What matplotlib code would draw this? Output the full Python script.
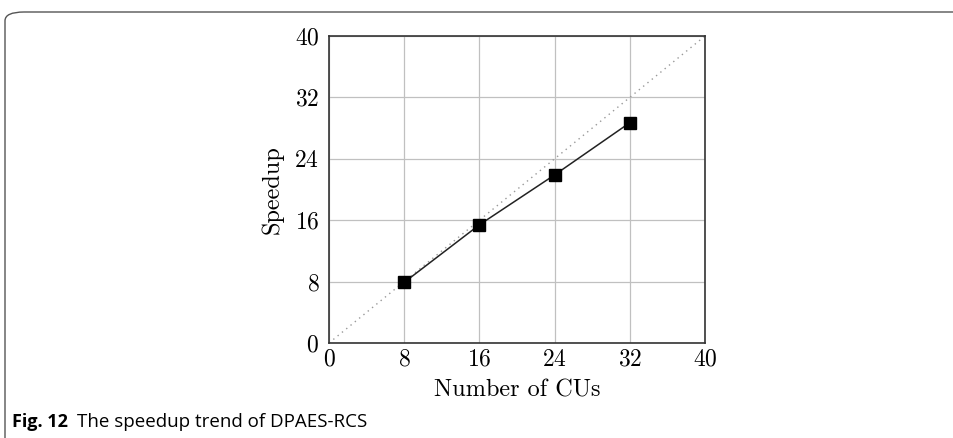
import numpy as np
import matplotlib.pyplot as plt
from matplotlib.patches import FancyBboxPatch

plt.rcParams['font.family'] = 'cmr10'
plt.rcParams['axes.formatter.use_mathtext'] = True

# Data
cus = [8, 16, 24, 32]
speedup = [7.9, 15.4, 21.9, 28.7]
ideal = [0, 40]
ticks = [0, 8, 16, 24, 32, 40]

W, H = 954, 438
fig = plt.figure(figsize=(W / 100, H / 100), dpi=100)

# rounded frame around the figure (clipped at right/bottom)
frame = FancyBboxPatch((5 / W, -0.2), 1.2, (H - 12) / H + 0.2,
                       boxstyle='round,pad=0,rounding_size=0.02',
                       transform=fig.transFigure, fill=False,
                       edgecolor='#555555', linewidth=1.0)
fig.patches.append(frame)

ax = fig.add_axes([329 / W, 1 - 343 / H, 376 / W, 307 / H])
ax.plot(ideal, ideal, linestyle=(0, (1, 3)), color='#999999', linewidth=1.0, zorder=2)
ax.plot(cus, speedup, color='#222222', linewidth=1.1, marker='s',
        markersize=8, markerfacecolor='black', markeredgecolor='black', zorder=3)

ax.set_xlim(0, 40)
ax.set_ylim(0, 40)
ax.set_xticks(ticks)
ax.set_yticks(ticks)
ax.grid(True, color='#c0c0c0', linewidth=0.9)
ax.set_axisbelow(True)
ax.tick_params(direction='in', length=0, labelsize=17, pad=4)
ax.tick_params(axis='y', pad=7)
for s in ax.spines.values():
    s.set_linewidth(1.2)
    s.set_color('#333333')

ax.set_xlabel('Number of CUs', fontsize=17.5, labelpad=6)
ax.set_ylabel('Speedup', fontsize=17.5, labelpad=8)

fig.text(12 / W, 1 - 422 / H, 'Fig. 12', fontfamily='Open Sans', fontweight='bold',
         fontsize=13, va='center', ha='left')
fig.text(77 / W, 1 - 422 / H, 'The speedup trend of DPAES-RCS', fontfamily='Open Sans',
         fontsize=13.5, va='center', ha='left')

fig.savefig('out.png', dpi=100)
